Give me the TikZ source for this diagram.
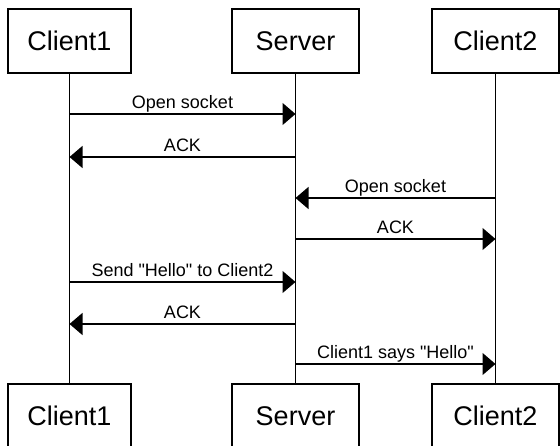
\documentclass[tikz,border=0pt]{standalone}
\usepackage{fontspec}
\setmainfont{Liberation Sans}
\usetikzlibrary{arrows.meta}
\begin{document}
\begin{tikzpicture}[x=1pt,y=-1pt,
  actor/.style={draw, line width=1.3pt, minimum height=64pt, inner sep=0pt,
    font=\fontsize{27}{30}\selectfont},
  lifeline/.style={line width=1.2pt},
  msg/.style={line width=1.2pt, -{Triangle[length=13pt,width=22pt]}},
  lbl/.style={anchor=base, inner sep=0pt, yshift=5pt,
    font=\fontsize{18}{20}\selectfont}]
\useasboundingbox (0,0) rectangle (560,446);
\clip (0,0) rectangle (560,446);

% participants, head and foot
\node[actor, minimum width=123pt] (c1t) at (69.5,41) {Client1};
\node[actor, minimum width=127pt] (svt) at (295.5,41) {Server};
\node[actor, minimum width=127pt] (c2t) at (495.5,41) {Client2};
\node[actor, minimum width=123pt] (c1b) at (69.5,416) {Client1};
\node[actor, minimum width=127pt] (svb) at (295.5,416) {Server};
\node[actor, minimum width=127pt] (c2b) at (495.5,416) {Client2};

% lifelines
\draw[lifeline] (c1t) -- (c1b);
\draw[lifeline] (svt) -- (svb);
\draw[lifeline] (c2t) -- (c2b);

% message end points on the lifelines
\coordinate (a1) at (c1t.south |- 0,114);
\coordinate (s1) at (svt.south |- 0,114);
\coordinate (a2) at (c1t.south |- 0,157);
\coordinate (s2) at (svt.south |- 0,157);
\coordinate (s3) at (svt.south |- 0,198);
\coordinate (b3) at (c2t.south |- 0,198);
\coordinate (s4) at (svt.south |- 0,239);
\coordinate (b4) at (c2t.south |- 0,239);
\coordinate (a5) at (c1t.south |- 0,282);
\coordinate (s5) at (svt.south |- 0,282);
\coordinate (a6) at (c1t.south |- 0,324);
\coordinate (s6) at (svt.south |- 0,324);
\coordinate (s7) at (svt.south |- 0,364);
\coordinate (b7) at (c2t.south |- 0,364);

% messages
\draw[msg] (a1) -- (s1) node[lbl, midway] {Open socket};
\draw[msg] (s2) -- (a2) node[lbl, midway] {ACK};
\draw[msg] (b3) -- (s3) node[lbl, midway] {Open socket};
\draw[msg] (s4) -- (b4) node[lbl, midway] {ACK};
\draw[msg] (a5) -- (s5) node[lbl, midway] {Send \textquotedbl Hello\textquotedbl{} to Client2};
\draw[msg] (s6) -- (a6) node[lbl, midway] {ACK};
\draw[msg] (s7) -- (b7) node[lbl, midway] {Client1 says \textquotedbl Hello\textquotedbl};
\end{tikzpicture}
\end{document}
